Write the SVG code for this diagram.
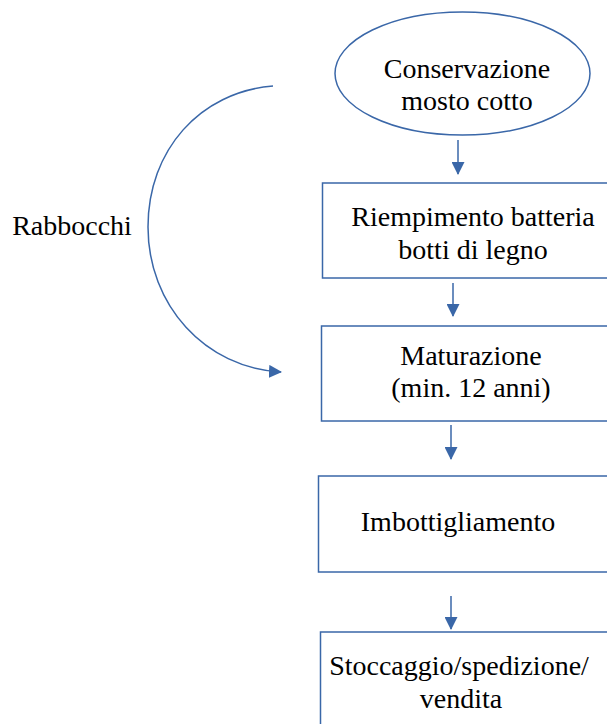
<svg xmlns="http://www.w3.org/2000/svg" width="607" height="724" viewBox="0 0 607 724">
<defs>
<style>
.box{fill:#fff;stroke:#3a67a8;stroke-width:1.5}
.t{font-family:"Liberation Serif","Times New Roman",serif;font-size:28px;fill:#000;text-anchor:middle}
.c{fill:none;stroke:#3a67a8;stroke-width:1.5}
</style>
<marker id="ah" markerWidth="13" markerHeight="13" viewBox="0 0 13 13" refX="12" refY="6.5" orient="auto" markerUnits="userSpaceOnUse">
<path d="M0,0 L13,6.5 L0,13 z" fill="#3a67a8"/>
</marker>
</defs>
<rect width="607" height="724" fill="#fff"/>
<g id="n1">
<ellipse class="box" cx="462.5" cy="73.5" rx="127.5" ry="61.5"/>
<text class="t" x="467" y="78">Conservazione</text>
<text class="t" x="467" y="110">mosto cotto</text>
</g>
<g id="n2">
<rect class="box" x="322.5" y="183" width="300" height="95"/>
<text class="t" x="473" y="226">Riempimento batteria</text>
<text class="t" x="473" y="259">botti di legno</text>
</g>
<g id="n3">
<rect class="box" x="321.5" y="326" width="300" height="95"/>
<text class="t" x="471" y="365">Maturazione</text>
<text class="t" x="471" y="397">(min. 12 anni)</text>
</g>
<g id="n4">
<rect class="box" x="318.5" y="476" width="300" height="96"/>
<text class="t" x="458" y="531">Imbottigliamento</text>
</g>
<g id="n5">
<rect class="box" x="320.5" y="632" width="300" height="110"/>
<text class="t" x="459" y="675">Stoccaggio/spedizione/</text>
<text class="t" x="461" y="708">vendita</text>
</g>
<g id="lbl">
<text class="t" x="72" y="235">Rabbocchi</text>
</g>
<g id="connectors">
<line class="c" x1="458" y1="140" x2="458" y2="174" marker-end="url(#ah)"/>
<line class="c" x1="453" y1="283" x2="453" y2="316" marker-end="url(#ah)"/>
<line class="c" x1="451" y1="425" x2="451" y2="459" marker-end="url(#ah)"/>
<line class="c" x1="451" y1="596" x2="451" y2="629" marker-end="url(#ah)"/>
<path class="c" d="M273,86 C200,92 148,150 148,227 C148,305 205,368 281,372" marker-end="url(#ah)"/>
</g>
</svg>
